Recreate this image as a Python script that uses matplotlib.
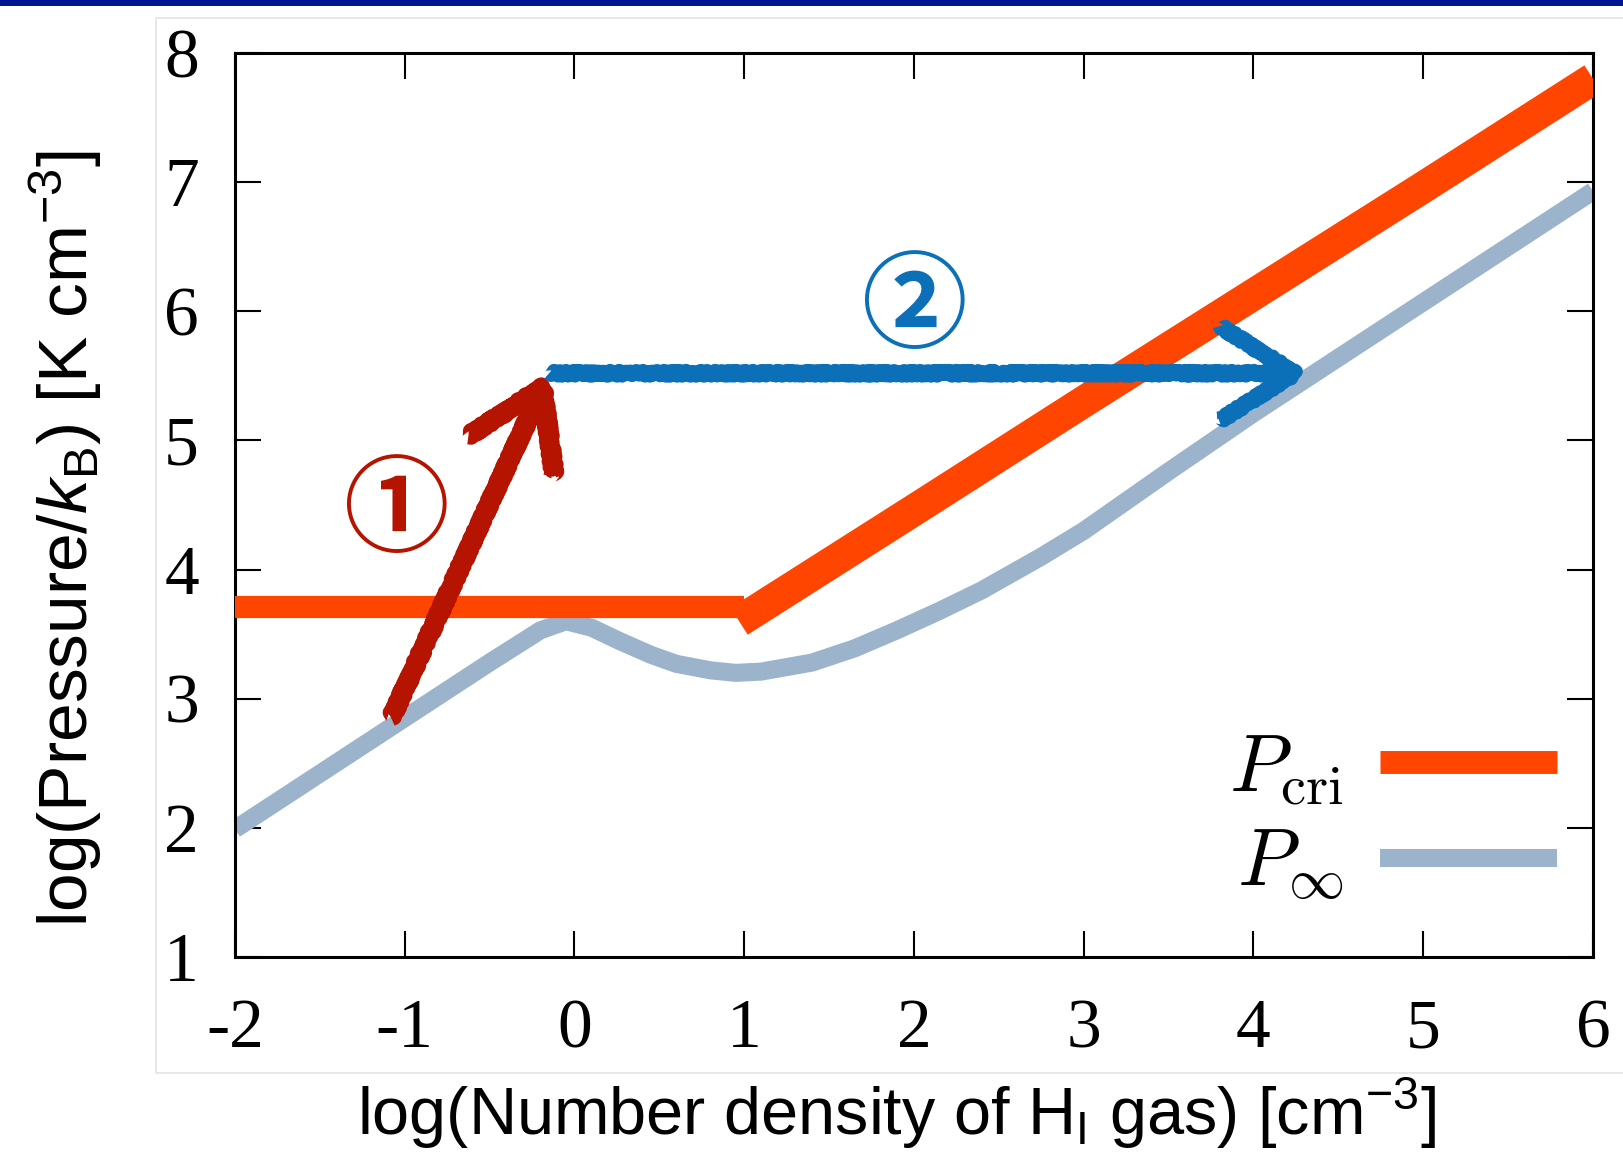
#!/usr/bin/env python3

from matplotlib import pyplot as plt
from matplotlib.font_manager import FontProperties
from matplotlib.patches import Rectangle

plt.rcParams['font.family'] = 'Liberation Serif'
plt.rcParams['mathtext.fontset'] = 'custom'
plt.rcParams['mathtext.rm'] = 'Liberation Sans'
plt.rcParams['mathtext.it'] = 'Liberation Sans:italic'
plt.rcParams['axes.unicode_minus'] = False

# critical pressure: flat at low density, then a power law
pcri_low_x = [-2.0, 1.0]
pcri_low_y = [3.71, 3.71]
pcri_high_x = [0.97, 2.0, 3.0, 4.0, 5.0, 6.0]
pcri_high_y = [3.60, 4.46, 5.30, 6.13, 6.96, 7.80]

# two-phase equilibrium pressure
pinf_x = [-2.0, -1.5, -1.0, -0.5, -0.2, -0.05, 0.1, 0.26, 0.45, 0.6, 0.8,
          0.95, 1.1, 1.4, 1.65, 1.9, 2.15, 2.4, 2.75, 3.0, 3.5, 4.0, 4.5,
          5.0, 5.5, 6.0]
pinf_y = [1.99, 2.42, 2.85, 3.28, 3.53, 3.60, 3.55, 3.45, 3.34, 3.27, 3.22,
          3.20, 3.21, 3.28, 3.39, 3.53, 3.68, 3.84, 4.10, 4.30, 4.76, 5.21,
          5.64, 6.07, 6.50, 6.93]

# the two steps drawn on top (start, end)
step1 = ((-1.08, 2.85), (-0.15, 5.52))
step2 = ((-0.15, 5.52), (4.32, 5.52))
step1_label = (-1.05, 4.44)
step2_label = (2.0, 6.02)

xticks = [-2, -1, 0, 1, 2, 3, 4, 5, 6]
xtick_labels = ['-2', '-1', '0', '1', '2', '3', '4', '5', '6']
yticks = [1, 2, 3, 4, 5, 6, 7, 8]
ytick_labels = ['1', '2', '3', '4', '5', '6', '7', '8']

ORANGE = '#ff4500'
GREYBLUE = '#9bb4cb'
RED = '#b51500'
BLUE = '#0b70b8'

fig = plt.figure(figsize=(16.24, 11.57), dpi=100)

# slide decoration: blue bar on top and faint frame round the plot
fig.patches.append(Rectangle((0, 1 - 6 / 1157), 1, 6 / 1157, transform=fig.transFigure,
                             facecolor='#001690', edgecolor='none'))
fig.patches.append(Rectangle((156 / 1624, 1 - 1073 / 1157), 1.0, (1073 - 18) / 1157,
                             transform=fig.transFigure, facecolor='none',
                             edgecolor='#e4e4e4', linewidth=1.2))

ax = fig.add_axes([235 / 1624, 1 - 957 / 1157, 1358 / 1624, 904 / 1157])

ax.plot(pinf_x, pinf_y, color=GREYBLUE, linewidth=13, solid_capstyle='butt',
        solid_joinstyle='round', zorder=2)
ax.plot(pcri_low_x, pcri_low_y, color=ORANGE, linewidth=16,
        solid_capstyle='butt', zorder=3)
ax.plot(pcri_high_x, pcri_high_y, color=ORANGE, linewidth=23,
        solid_capstyle='butt', zorder=3)

for (start, end), color, lw in [(step1, RED, 12), (step2, BLUE, 10)]:
    ann = ax.annotate('', xy=end, xytext=start,
                      arrowprops=dict(arrowstyle='->,head_length=2.7,head_width=1.7',
                                      mutation_scale=20, color=color, linewidth=lw,
                                      shrinkA=0, shrinkB=0, capstyle='butt'),
                      zorder=5)
    ann.arrow_patch.set_sketch_params(2.5, 6, 3)

circ = ['Noto Sans CJK JP', 'DejaVu Sans']
ax.text(*step1_label, '\u2460', color=RED, fontsize=76, family=circ,
        weight='bold', ha='center', va='center', zorder=6)
ax.text(*step2_label, '\u2461', color=BLUE, fontsize=76, family=circ,
        weight='bold', ha='center', va='center', zorder=6)

ax.set_xlim(-2, 6)
ax.set_ylim(1, 8)
ax.set_xticks(xticks, xtick_labels)
ax.set_yticks(yticks, ytick_labels)
ax.tick_params(direction='in', top=True, right=True, length=19, width=1.5,
               labelsize=50)
ax.tick_params(axis='x', pad=30)
ax.tick_params(axis='y', pad=26)
for spine in ax.spines.values():
    spine.set_linewidth(2.2)

fig.text(896 / 1624, 1 - 1113 / 1157,
         r'log(Number density of H$_{\rm I}$ gas) [cm$^{-3}$]',
         family='Liberation Sans', fontsize=48, ha='center', va='center')
fig.text(66 / 1624, 1 - 539 / 1157,
         r'log(Pressure/$k_{\rm B}$) [K cm$^{-3}$]',
         family='Liberation Sans', fontsize=50, ha='center', va='center',
         rotation=90)

# legend entries for the two curves
h_cri, = ax.plot([], [], color=ORANGE, linewidth=16.5, solid_capstyle='butt')
h_inf, = ax.plot([], [], color=GREYBLUE, linewidth=13, solid_capstyle='butt')
ax.legend([h_cri, h_inf], [r'$P_{\rm cri}$', r'$P_\infty$'], loc='lower right',
          bbox_to_anchor=(0.9735, 0.06), markerfirst=False, frameon=False,
          prop=FontProperties(size=58, math_fontfamily='cm'),
          handlelength=2.2, handletextpad=0.45, labelspacing=0.25,
          borderpad=0, borderaxespad=0)

plt.savefig('out.png', dpi=100)
